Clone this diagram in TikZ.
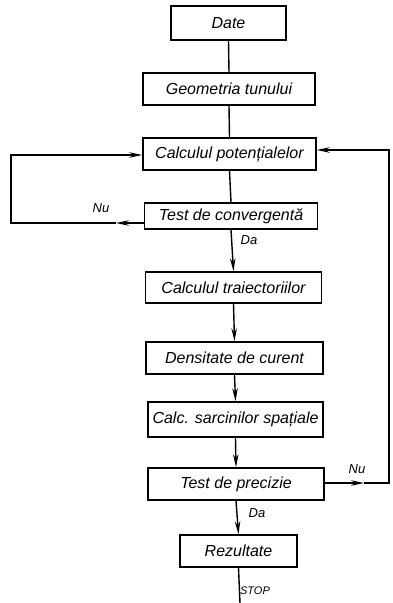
\documentclass[tikz,border=0pt]{standalone}
\usepackage{fontspec}
\setmainfont{Liberation Sans}
\usetikzlibrary{arrows.meta}
\begin{document}
\begin{tikzpicture}[x=1pt,y=-1pt,
  line width=1.4pt,
  box/.style={draw, line width=1.5pt, inner sep=0pt,
    font=\itshape\fontsize{16}{18}\selectfont},
  arr/.style={-{Stealth[length=13pt,width=5.5pt]}},
  lbl/.style={font=\itshape\fontsize{13}{15}\selectfont},
  stoplbl/.style={font=\itshape\fontsize{11}{13}\selectfont}]

% page frame
\fill[white] (0,0) rectangle (393,603);
\useasboundingbox (0,0) rectangle (393,603);

% process boxes
\node[box, minimum width=115pt, minimum height=34pt] (date) at (228.5,23)  {Date};
\node[box, minimum width=172pt, minimum height=32pt] (geom) at (229,89)    {Geometria tunului};
\node[box, minimum width=173pt, minimum height=32pt] (pot)  at (229.5,154) {Calculul potențialelor};
\node[box, minimum width=173pt, minimum height=26pt] (conv) at (231,216)   {Test de convergentă};
\node[box, minimum width=176pt, minimum height=31pt] (trai) at (233.5,287.5) {Calculul traiectoriilor};
\node[box, minimum width=177pt, minimum height=32pt] (dens) at (234.5,358) {Densitate de curent};
\node[box, minimum width=175pt, minimum height=35pt] (sarc) at (235.5,419.5) {Calc. sarcinilor spațiale};
\node[box, minimum width=176pt, minimum height=32pt] (prec) at (236,484)   {Test de precizie};
\node[box, minimum width=117pt, minimum height=32pt] (rez)  at (238.5,551) {Rezultate};

% loop corners and free ends
\coordinate (lmid) at (116,223);
\coordinate (lbot) at (11,223);
\coordinate (ltop) at (11,155);
\coordinate (rmid) at (364,483);
\coordinate (rbot) at (389,483);
\coordinate (rtop) at (389,150);
\coordinate (stopend) at (240,603);

% main flow
\draw (date.south) -- (geom.north);
\draw (geom.south) -- (pot.north);
\draw (pot.south) -- (conv.north);
\draw[arr] (conv.south) -- (trai.north);
\draw[arr] (trai.south) -- (dens.north);
\draw[arr] (dens.south) -- (sarc.north);
\draw[arr] (sarc.south) -- (prec.north);
\draw[arr] (prec.south) -- (rez.north);
\draw (rez.south) -- (stopend);

% convergence loop (left)
\draw[arr] (conv.west |- lmid) -- (lmid);
\draw[arr] (lmid) -- (lbot) -- (ltop) -- (pot.west |- ltop);

% precision loop (right)
\draw[arr] (prec.east |- rmid) -- (rmid);
\draw[arr] (rmid) -- (rbot) -- (rtop) -- (pot.east |- rtop);

% labels
\node[lbl] (nu1) at (101,208) {Nu};
\node[lbl] (da1) at (249,240) {Da};
\node[lbl] (nu2) at (357,469) {Nu};
\node[lbl] (da2) at (257,513) {Da};
\node[stoplbl] (stop) at (255,591) {STOP};
\end{tikzpicture}
\end{document}
